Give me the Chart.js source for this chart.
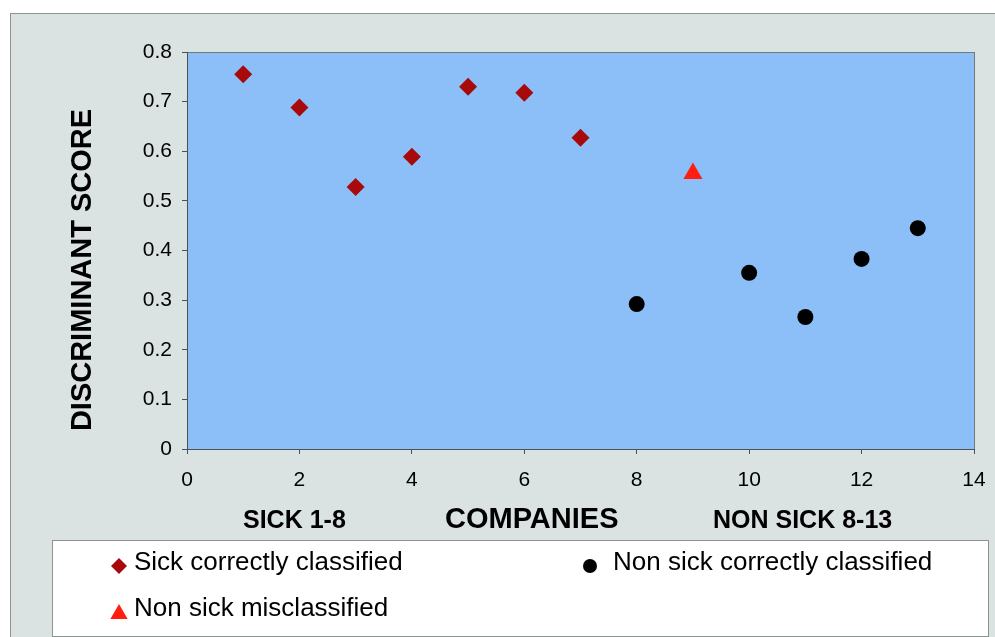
<!DOCTYPE html>
<html>
<head>
<meta charset="utf-8">
<title>Discriminant score by company</title>
<script src="https://cdn.jsdelivr.net/npm/chart.js@4/dist/chart.umd.min.js"></script>
<style>
  html, body { margin: 0; padding: 0; background: #ffffff; }
  #wrap { width: 995px; height: 637px; }
</style>
</head>
<body>
<div id="wrap"><canvas id="chart" width="995" height="637"></canvas></div>
<script>
// Company numbers and discriminant scores, per classification group
const sickCompanies = [1, 2, 3, 4, 5, 6, 7];
const sickScores = [0.755, 0.688, 0.528, 0.589, 0.730, 0.718, 0.627];

const misclassifiedCompanies = [9];
const misclassifiedScores = [0.555];

const nonSickCompanies = [8, 10, 11, 12, 13];
const nonSickScores = [0.292, 0.355, 0.266, 0.383, 0.445];

const seriesLabels = [
  'Sick correctly classified',
  'Non sick misclassified',
  'Non sick correctly classified'
];

const xTickValues = [0, 2, 4, 6, 8, 10, 12, 14];
const yTickValues = [0, 0.1, 0.2, 0.3, 0.4, 0.5, 0.6, 0.7, 0.8];

const axisTitleY = 'DISCRIMINANT SCORE';
const axisTitleX = 'COMPANIES';
const groupLabelLeft = 'SICK 1-8';
const groupLabelRight = 'NON SICK 8-13';

const FONT = '"Liberation Sans", Arial, Helvetica, sans-serif';

function toPoints(xs, ys) {
  return xs.map((x, i) => ({ x: x, y: ys[i] }));
}

// Frame, plot background and plot border
const backdrop = {
  id: 'backdrop',
  beforeDraw(chart) {
    const { ctx, chartArea: a } = chart;
    ctx.save();
    ctx.fillStyle = '#ffffff';
    ctx.fillRect(0, 0, chart.width, chart.height);
    ctx.fillStyle = '#dbe2e2';
    ctx.fillRect(10, 13, chart.width - 10, chart.height - 13);
    ctx.strokeStyle = '#8d9292';
    ctx.lineWidth = 1;
    ctx.strokeRect(10.5, 13.5, chart.width, chart.height);
    ctx.fillStyle = '#8cbff8';
    ctx.fillRect(a.left, a.top, a.right - a.left, a.bottom - a.top);
    ctx.strokeStyle = '#6f7a80';
    ctx.strokeRect(a.left + 0.5, a.top + 0.5, a.right - a.left, a.bottom - a.top);
    ctx.restore();
  }
};

// Axis titles, group captions and the legend box
const annotations = {
  id: 'annotations',
  afterDraw(chart) {
    const { ctx } = chart;
    ctx.save();
    ctx.fillStyle = '#000000';

    // vertical axis title
    ctx.save();
    ctx.translate(83, 270);
    ctx.rotate(-Math.PI / 2);
    ctx.font = 'bold 29px ' + FONT;
    ctx.textAlign = 'center';
    ctx.textBaseline = 'middle';
    ctx.fillText(axisTitleY, 0, 0);
    ctx.restore();

    // horizontal captions
    ctx.textBaseline = 'middle';
    ctx.textAlign = 'left';
    ctx.font = 'bold 25px ' + FONT;
    ctx.fillText(groupLabelLeft, 243, 521);
    ctx.fillText(groupLabelRight, 713, 521);
    ctx.font = 'bold 29px ' + FONT;
    ctx.fillText(axisTitleX, 445, 520);

    // legend box
    ctx.fillStyle = '#ffffff';
    ctx.fillRect(52, 540, 936, 96);
    ctx.strokeStyle = '#8d9292';
    ctx.lineWidth = 1;
    ctx.strokeRect(52.5, 540.5, 936, 96);

    const items = [
      { ds: 0, mx: 119, my: 566, tx: 134, ty: 563, r: 8 },
      { ds: 1, mx: 119, my: 614, tx: 134, ty: 609, r: 10 },
      { ds: 2, mx: 590, my: 566, tx: 613, ty: 563, r: 7 }
    ];
    ctx.font = '26px ' + FONT;
    items.forEach(it => {
      const ds = chart.data.datasets[it.ds];
      ctx.fillStyle = ds.pointBackgroundColor;
      ctx.strokeStyle = ds.pointBackgroundColor;
      Chart.helpers.drawPoint(ctx, {
        pointStyle: ds.pointStyle, radius: it.r, rotation: 0, borderWidth: 0
      }, it.mx, it.my);
      ctx.fillStyle = '#000000';
      ctx.textAlign = 'left';
      ctx.textBaseline = 'middle';
      ctx.fillText(ds.label, it.tx, it.ty);
    });
    ctx.restore();
  }
};

new Chart(document.getElementById('chart'), {
  type: 'scatter',
  data: {
    datasets: [
      {
        label: seriesLabels[0],
        data: toPoints(sickCompanies, sickScores),
        pointStyle: 'rectRot',
        pointRadius: 9,
        pointHoverRadius: 9,
        pointBorderWidth: 0,
        pointBackgroundColor: '#a80a0c',
        pointBorderColor: '#a80a0c'
      },
      {
        label: seriesLabels[1],
        data: toPoints(misclassifiedCompanies, misclassifiedScores),
        pointStyle: 'triangle',
        pointRadius: 11,
        pointHoverRadius: 11,
        pointBorderWidth: 0,
        pointBackgroundColor: '#ff1e10',
        pointBorderColor: '#ff1e10'
      },
      {
        label: seriesLabels[2],
        data: toPoints(nonSickCompanies, nonSickScores),
        pointStyle: 'circle',
        pointRadius: 8,
        pointHoverRadius: 8,
        pointBorderWidth: 0,
        pointBackgroundColor: '#000000',
        pointBorderColor: '#000000'
      }
    ]
  },
  options: {
    responsive: false,
    devicePixelRatio: 1,
    animation: false,
    events: [],
    layout: { padding: { top: 52, right: 21, bottom: 0, left: 0 } },
    plugins: {
      legend: { display: false },
      tooltip: { enabled: false },
      title: { display: false }
    },
    scales: {
      x: {
        type: 'linear',
        min: 0,
        max: 14,
        afterFit(scale) {
          scale.height = 188;
          scale.paddingLeft = 0;
          scale.paddingRight = 0;
        },
        afterBuildTicks(scale) { scale.ticks = xTickValues.map(v => ({ value: v })); },
        ticks: {
          color: '#000000',
          font: { family: FONT, size: 21 },
          padding: 14,
          maxRotation: 0,
          callback: v => String(v)
        },
        grid: { drawOnChartArea: false, drawTicks: true, tickLength: 5, color: '#4a5258' },
        border: { display: true, color: '#4a5258', width: 1 }
      },
      y: {
        type: 'linear',
        min: 0,
        max: 0.8,
        afterFit(scale) { scale.width = 187; },
        afterBuildTicks(scale) { scale.ticks = yTickValues.map(v => ({ value: v })); },
        ticks: {
          color: '#000000',
          font: { family: FONT, size: 21 },
          padding: 10,
          callback: v => String(+v.toFixed(1))
        },
        grid: { drawOnChartArea: false, drawTicks: true, tickLength: 5, color: '#4a5258' },
        border: { display: true, color: '#4a5258', width: 1 }
      }
    }
  },
  plugins: [backdrop, annotations]
});
</script>
</body>
</html>
